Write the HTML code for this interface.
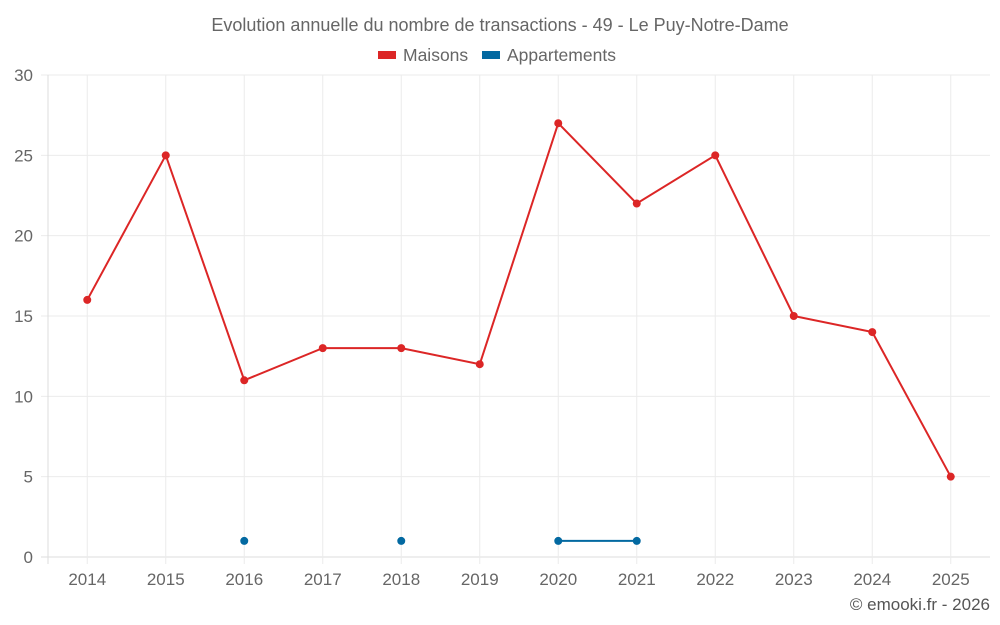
<!DOCTYPE html>
<html><head><meta charset="utf-8"><style>
html,body{margin:0;padding:0;background:#fff;width:1000px;height:625px;overflow:hidden}
svg{display:block;font-family:"Liberation Sans",sans-serif}
</style></head><body>
<svg id="chart" width="1000" height="625">
<text x="500" y="31" text-anchor="middle" font-size="18" fill="#666">Evolution annuelle du nombre de transactions - 49 - Le Puy-Notre-Dame</text>
<g>
<g><rect x="378" y="51" width="18" height="8" fill="#dc2626"/><text x="403" y="61" font-size="17.5" fill="#666">Maisons</text></g>
<g><rect x="482" y="51" width="18" height="8" fill="#0369a1"/><text x="507" y="61" font-size="17.5" fill="#666">Appartements</text></g>
</g>
<g id="grid"></g><g id="axes"></g><g id="series"></g>
<text x="990" y="610" text-anchor="end" font-size="17" fill="#555">© emooki.fr - 2026</text>
</svg>
<script>
const categories=[2014,2015,2016,2017,2018,2019,2020,2021,2022,2023,2024,2025];
const maisons=[16,25,11,13,13,12,27,22,25,15,14,5];
const appartements=[null,null,1,null,1,null,1,1,null,null,null,null];
const yTicks=[0,5,10,15,20,25,30];
const L=48,R=990,T=75,B=557,yMax=30;
const bw=(R-L)/categories.length;
const x=i=>L+bw*(i+0.5);
const y=v=>B-(v/yMax)*(B-T);
const NS="http://www.w3.org/2000/svg";
function mk(tag,attrs,parent){const e=document.createElementNS(NS,tag);for(const k in attrs)e.setAttribute(k,attrs[k]);parent.appendChild(e);return e;}
const grid=document.getElementById('grid'),axes=document.getElementById('axes'),series=document.getElementById('series');
yTicks.forEach(t=>{
 const l=mk('line',{x1:L-7,x2:R,y1:y(t),y2:y(t),stroke:t===0?'#ddd':'#ebebeb','stroke-width':1},grid);
 
 
 const tx=mk('text',{x:33,y:y(t)+6,'text-anchor':'end','font-size':17,fill:'#666'},axes);
 tx.textContent=t;
 
 
});
const al=mk('line',{x1:L,x2:L,y1:T,y2:B+7,stroke:'#ddd'},grid);


categories.forEach((c,i)=>{
 const l=mk('line',{x1:x(i),x2:x(i),y1:T,y2:B+7,stroke:'#ebebeb'},grid);
 
 
 const tx=mk('text',{x:x(i),y:585,'text-anchor':'middle','font-size':17,fill:'#666'},axes);
 tx.textContent=c;
 
 
});
function draw(data,color,name){
 let seg=[];
 const flush=()=>{if(seg.length>1){const p=mk('polyline',{points:seg.join(' '),fill:'none',stroke:color,'stroke-width':2},series);
 
 }seg=[];};
 data.forEach((v,i)=>{if(v===null){flush();return;}seg.push(x(i)+','+y(v));});
 flush();
 data.forEach((v,i)=>{if(v===null)return;
  const c=mk('circle',{cx:x(i),cy:y(v),r:4,fill:color},series);
  
  });
}
draw(maisons,'#dc2626','maisons');
draw(appartements,'#0369a1','appartements');
</script>
</body></html>
